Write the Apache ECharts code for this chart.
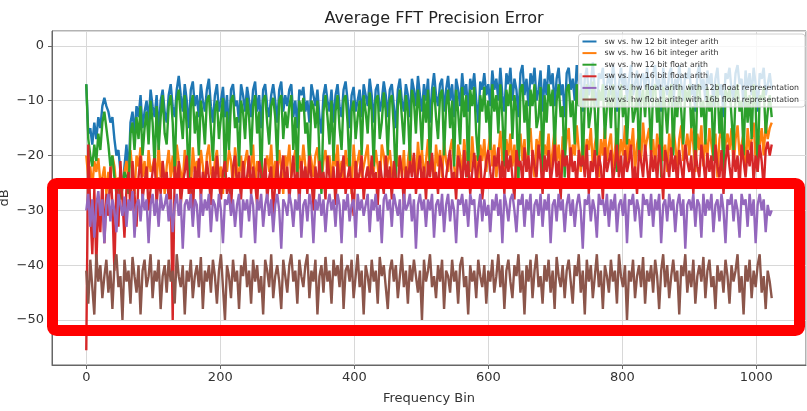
<!DOCTYPE html>
<html>
<head>
<meta charset="utf-8">
<script src="https://cdn.jsdelivr.net/npm/echarts@6/dist/echarts.min.js"></script>
<style>html,body{margin:0;padding:0;background:#fff}#c{width:807px;height:411px}</style>
</head>
<body>
<div id="c"></div>
<script>
// Sampled every BIN_STEP frequency bins (bins 0..1023)
const BIN_STEP = 3;
const seriesNames = [
  'sw vs. hw 12 bit integer arith',
  'sw vs. hw 16 bit integer arith',
  'sw vs. hw 12 bit float arith',
  'sw vs. hw 16 bit float arith',
  'sw vs. hw float arith with 12b float representation',
  'sw vs. hw float arith with 16b float representation'
];
const int12 = [
-7,-16,-15,-18,-14,-17,-13,-15,-11,-9.5,-11,-12,-14,-13,-17,-20,-19,-23,-26,-22,
-18,-24,-14,-12,-16,-11,-13,-9,-15,-12,-10,-14,-8,-11,-13,-9,-16,-10,-8,-12,
-14,-9,-7,-11,-13,-8,-5.5,-9,-12,-7,-10,-15,-8,-6.5,-11,-9,-13,-7,-10,-12,
-8,-6,-11,-14,-9,-7,-12,-10,-7.5,-13,-9,-16,-8,-7,-11,-10,-14,-7,-9,-12,
-7.5,-10,-13,-8,-6.5,-12,-9,-15,-8,-7,-11,-13,-9,-7,-10,-14,-8,-6.5,-12,-9,
-11,-8,-7,-13,-10,-15,-8,-9,-7.5,-12,-10,-14,-7,-9,-11,-8,-13,-16,-9,-7,
-10,-12,-8,-14,-9,-7,-11,-13,-8,-6.5,-10,-15,-9,-7.5,-12,-10,-8,-13,-7,-9,
-11,-6,-9,-14,-8,-7,-12,-10,-6.5,-9,-13,-8,-7,-11,-15,-8,-6,-10,-12,-7,
-9,-13,-6,-8,-11,-5.5,-9,-12,-7,-10,-6,-14,-8,-5,-9,-11,-7,-6,-12,-8,
-5.5,-10,-7,-13,-6,-8,-11,-5,-9,-7,-12,-6,-8,-5,-10,-14,-6.5,-8,-5,-9,
-7,-11,-4.5,-8,-6,-10,-4,-9,-12,-5,-7,-4,-10,-6,-8,-13,-5,-3.5,-9,-6,
-11,-5,-7,-4,-10,-8,-4.5,-12,-6,-9,-3.5,-7,-5,-11,-6,-4,-9,-7,-13,-5,
-4,-8,-6,-10,-3.5,-7,-5,-12,-6,-4,-9,-7,-3,-8,-11,-5,-6,-4,-10,-7,
-5,-9,-3.5,-6,-12,-7,-4,-8,-5,-10,-6,-3.5,-9,-7,-4.5,-11,-6,-5,-8,-4,
-7,-10,-5,-3.5,-8,-6,-12,-4,-7,-9,-5,-4,-11,-6,-8,-3.5,-7,-10,-5,-6,
-4,-9,-7,-12,-5,-3.5,-8,-6,-10,-4.5,-7,-5,-11,-6,-4,-9,-7,-13,-5,-6,
-4,-8,-10,-5,-3.5,-7,-6,-11,-4.5,-8,-5,-9,-4,-7,-12,-5,-6,-4,-9,-7,
-5,-8
];
const int16 = [
-20,-24,-22,-26,-21,-23,-20.5,-25,-24,-22,-27,-23,-25,-20,-22,-26,-24,-28,-25,-23,
-21,-25,-19,-23,-27,-20,-22,-18.5,-24,-21,-26,-19,-23,-22,-20,-25,-18,-24,-21,-27,
-22,-19,-24,-20,-26,-18,-21,-23,-25,-19,-22,-20,-27,-18.5,-23,-21,-24,-19,-22,-26,
-20,-18,-23,-25,-21,-19,-24,-22,-27,-20,-23,-19,-21,-26,-18.5,-22,-24,-20,-25,-21,
-19,-24,-22,-18,-26,-21,-23,-19.5,-25,-22,-20,-23,-18,-25,-21,-24,-19,-22,-27,-20,
-22,-18,-24,-21,-19,-25,-20,-23,-18,-22,-26,-19,-21,-24,-20,-18.5,-23,-25,-21,-19,
-23,-20,-26,-19,-22,-18,-24,-21,-25,-19,-22,-20,-27,-18,-23,-21,-19,-24,-22,-20,
-18,-25,-21,-23,-19,-22,-26,-18,-20,-24,-21,-19,-23,-25,-18.5,-22,-20,-24,-19,-26,
-21,-18,-23,-20,-25,-17.5,-22,-19,-24,-21,-17,-23,-20,-26,-18,-22,-19,-24,-17.5,-21,
-23,-19,-17,-22,-25,-18,-20,-24,-17,-21,-19,-23,-16.5,-22,-20,-25,-18,-21,-17,-23,
-19,-16,-22,-18,-24,-20,-15.5,-21,-23,-17,-20,-16,-22,-18,-25,-19,-16,-21,-17,-23,
-18,-15,-21,-24,-17,-19,-15.5,-22,-18,-20,-16,-23,-19,-15,-21,-18,-24,-16.5,-20,-17,
-15,-22,-18,-20,-14.5,-19,-23,-16,-21,-17,-19,-15,-22,-18,-16,-24,-17,-20,-15,-21,
-18,-16,-23,-19,-15,-21,-17,-20,-14.5,-22,-17,-19,-15,-23,-18,-16,-21,-14,-19,-17,
-15,-20,-17,-22,-16,-19,-14.5,-21,-18,-23,-16,-20,-15,-18,-22,-17,-14.5,-21,-19,-16,
-20,-15,-18,-23,-16,-19,-14.5,-22,-17,-20,-15,-18,-21,-16,-24,-17,-15,-20,-18,-16,
-19,-15,-22,-17,-14.5,-20,-18,-16,-23,-15,-19,-17,-14,-21,-16,-18,-15,-20,-14,-17,
-15,-14
];
const float12 = [
-7,-17,-20,-22,-18,-21,-16,-19,-14,-12,-15,-18,-22,-20,-24,-27,-25,-28,-26,-23,
-24,-27,-16,-14,-19,-13,-17,-11,-20,-15,-12,-18,-10,-14,-22,-11,-19,-13,-9,-16,
-18,-11,-9,-14,-23,-10,-8,-13,-17,-9,-15,-25,-11,-9,-16,-12,-20,-10,-13,-18,
-10,-9,-15,-21,-12,-10,-17,-13,-9.5,-24,-12,-19,-10,-9,-15,-13,-22,-10,-12,-17,
-9.5,-13,-20,-11,-9,-16,-12,-26,-10,-9,-14,-18,-11,-9.5,-13,-21,-10,-9,-17,-12,
-15,-11,-9,-19,-13,-24,-10,-12,-9.5,-16,-14,-22,-10,-11,-15,-10,-20,-27,-12,-9,
-13,-18,-10,-21,-12,-9,-15,-19,-10,-9,-14,-23,-12,-10,-17,-13,-10,-20,-9,-12,
-16,-8.5,-12,-22,-10,-9,-17,-14,-8.5,-12,-20,-10,-9,-15,-25,-11,-8,-13,-18,-9,
-12,-21,-8,-10,-16,-8,-12,-19,-9,-14,-8,-23,-11,-7.5,-13,-17,-9,-8,-20,-11,
-8,-15,-10,-22,-8,-12,-18,-7.5,-13,-9,-24,-8,-11,-7.5,-16,-21,-9,-12,-7.5,-14,
-10,-19,-7,-12,-9,-16,-7,-13,-22,-8,-11,-7,-17,-9,-12,-25,-8,-7,-14,-10,
-20,-8,-11,-7,-15,-13,-7.5,-23,-9,-14,-7,-11,-8,-19,-10,-7,-13,-11,-24,-8,
-7,-13,-10,-18,-7,-11,-8,-22,-10,-7,-15,-12,-6.5,-12,-20,-8,-10,-7,-17,-11,
-8,-15,-7,-10,-23,-12,-7,-13,-9,-18,-10,-7,-14,-12,-7.5,-21,-10,-8,-13,-7,
-11,-19,-8,-7,-14,-10,-24,-7.5,-11,-16,-9,-7,-20,-10,-13,-7,-12,-18,-8,-10,
-7,-15,-11,-22,-8,-7,-13,-10,-18,-7.5,-12,-9,-21,-10,-7,-16,-11,-25,-8,-10,
-7.5,-13,-19,-9,-7,-12,-10,-20,-8,-14,-9,-17,-7,-11,-23,-9,-10,-7.5,-16,-12,
-9,-13
];
const float16 = [
-55.5,-18,-30,-38,-26,-40,-28,-34,-24,-36,-27,-31,-22,-29,-41,-25,-33,-21,-28,-35,
-26,-23,-30,-21,-27,-33,-24,-20,-28,-25,-22,-30,-26,-23,-20.5,-29,-24,-27,-21,-25,
-23,-28,-24,-50,-22,-26,-21,-29,-25,-23,-20,-27,-24,-31,-22,-25,-20.5,-28,-23,-26,
-21,-24,-29,-22,-26,-20,-25,-28,-23,-21,-27,-24,-30,-22,-20,-26,-23,-28,-21,-25,
-24,-20,-27,-22,-25,-29,-21,-23,-26,-20.5,-28,-24,-22,-31,-25,-21,-27,-23,-20,-26,
-22,-28,-24,-20,-26,-23,-29,-21,-25,-22,-27,-20,-24,-30,-22,-26,-21,-25,-23,-28,
-20,-24,-26,-22,-29,-21,-25,-23,-20,-27,-24,-22,-26,-31,-21,-25,-23,-20,-28,-24,
-22,-26,-20,-25,-23,-29,-21,-24,-27,-20,-25,-22,-28,-21,-24,-26,-20,-23,-29,-22,
-25,-21,-24,-19.5,-27,-23,-20,-26,-22,-28,-21,-24,-19.5,-25,-23,-27,-20,-22,-26,-24,
-21,-19,-25,-23,-28,-20,-22,-26,-19,-24,-21,-27,-23,-19.5,-25,-22,-20,-28,-24,-21,
-19,-23,-26,-20,-22,-18.5,-25,-21,-27,-19,-23,-20,-24,-28,-19,-22,-21,-25,-18.5,-23,
-20,-26,-19,-22,-24,-18,-21,-27,-20,-23,-19,-25,-22,-18,-24,-21,-28,-19,-22,-20,
-25,-18.5,-23,-21,-26,-19,-22,-20,-24,-18,-27,-21,-23,-19,-25,-20,-22,-28,-18.5,-23,
-21,-19,-25,-22,-18,-24,-20,-26,-19,-23,-21,-18,-25,-22,-27,-19,-21,-24,-18,-22,
-26,-19,-23,-20,-25,-18,-22,-28,-19,-21,-24,-18.5,-23,-20,-26,-19,-22,-25,-18,-21,
-23,-20,-27,-19,-22,-24,-18,-21,-25,-19.5,-23,-20,-26,-18,-22,-24,-19,-27,-21,-18,
-22,-25,-19,-23,-20,-26,-18,-21,-24,-19,-22,-17.5,-25,-20,-23,-18,-21,-26,-19,-17.5,
-20,-18
];
const rep12 = [
-30,-27,-33,-28,-35,-29,-26.5,-31,-28,-36,-29,-27,-32,-28,-30,-34,-27,-29,-31,-27.5,
-33,-28,-30,-26.5,-35,-29,-28,-32,-27,-30,-28,-36,-29,-27,-31,-28,-33,-27,-30,-29,
-27,-32,-28,-34,-29,-27,-31,-28,-37,-29,-28,-30,-27,-33,-28,-29,-35,-27,-31,-28,
-30,-27,-34,-28,-29,-32,-27,-30,-36,-28,-29,-27,-31,-28,-33,-29,-27,-35,-28,-30,
-28,-32,-27,-29,-36,-28,-30,-27,-33,-29,-27,-31,-28,-34,-29,-27,-30,-37,-28,-29,
-31,-27,-29,-33,-28,-30,-27,-35,-29,-28,-32,-27,-29,-36,-28,-30,-27,-31,-28,-34,
-29,-27,-30,-28,-33,-27,-29,-36,-28,-30,-27,-32,-29,-28,-35,-27,-30,-28,-31,-29,
-27,-34,-28,-30,-27,-32,-29,-36,-28,-27,-30,-28,-33,-27,-29,-31,-28,-35,-27,-30,
-29,-27,-32,-28,-37,-29,-27,-30,-28,-33,-28,-30,-27,-35,-29,-28,-31,-27,-34,-29,
-27,-32,-28,-30,-36,-28,-29,-27,-31,-28,-33,-27,-29,-28,-35,-30,-27,-32,-28,-31,
-29,-34,-28,-30,-27,-31,-28,-36,-27,-29,-32,-28,-27,-30,-34,-28,-29,-27,-33,-28,
-30,-27,-35,-29,-28,-31,-27,-33,-28,-30,-27,-36,-29,-28,-32,-27,-30,-28,-34,-29,
-27,-31,-28,-33,-29,-27,-30,-37,-28,-29,-27,-32,-28,-30,-35,-27,-29,-28,-31,-27,
-33,-28,-30,-27,-34,-29,-28,-31,-27,-36,-28,-29,-27,-32,-28,-30,-35,-27,-29,-28,
-31,-27,-33,-28,-30,-27,-36,-29,-28,-32,-27,-30,-28,-34,-29,-27,-31,-28,-37,-29,
-28,-30,-27,-33,-28,-29,-35,-27,-31,-28,-30,-27,-34,-29,-28,-32,-27,-30,-36,-28,
-29,-27,-32,-28,-30,-35,-27,-29,-28,-33,-27,-31,-28,-36,-29,-27,-30,-28,-34,-29,
-31,-30
];
const rep16 = [
-41,-47,-39,-44,-49,-38,-43,-40,-46,-42,-39,-45,-41,-48,-40,-38,-44,-42,-50,-39,
-43,-41,-47,-38.5,-42,-45,-40,-49,-41,-39,-44,-42,-38,-46,-41,-43,-39,-48,-42,-40,
-45,-39,-43,-41,-47,-38,-42,-44,-40,-49,-41,-43,-39,-46,-42,-40,-44,-38.5,-48,-41,
-43,-40,-45,-39,-42,-47,-41,-38,-44,-50,-40,-42,-46,-39,-43,-41,-48,-40,-42,-38,
-44,-41,-47,-39,-43,-40,-45,-42,-49,-39,-41,-44,-38,-46,-42,-40,-43,-48,-39,-42,
-45,-40,-38,-43,-41,-47,-39,-42,-44,-40,-38,-46,-41,-43,-39,-49,-42,-40,-45,-38.5,
-43,-41,-47,-39,-42,-40,-44,-38,-48,-41,-40,-43,-39,-46,-42,-38,-44,-41,-49,-40,
-42,-45,-39,-43,-41,-47,-38.5,-42,-40,-44,-48,-41,-39,-43,-40,-46,-42,-38,-44,-41,
-47,-40,-43,-39,-42,-45,-41,-50,-39,-43,-41,-38,-44,-42,-46,-40,-43,-39,-48,-41,
-42,-45,-39,-43,-41,-47,-40,-38.5,-44,-42,-49,-40,-43,-41,-46,-39,-42,-44,-40,-47,
-41,-43,-39,-45,-42,-38,-44,-40,-48,-41,-39,-43,-46,-40,-42,-38,-45,-41,-49,-40,
-43,-39,-46,-41,-38,-44,-42,-47,-40,-43,-39,-45,-41,-48,-38.5,-42,-44,-40,-46,-41,
-39,-43,-47,-40,-42,-38,-45,-41,-49,-39,-43,-40,-46,-42,-38,-44,-41,-48,-40,-42,
-45,-39,-43,-41,-47,-38,-42,-44,-40,-50,-41,-43,-39,-46,-42,-40,-44,-38.5,-47,-41,
-43,-40,-45,-39,-42,-48,-41,-38,-44,-40,-46,-42,-39,-43,-41,-49,-40,-42,-38,-45,
-41,-44,-39,-47,-42,-40,-43,-38.5,-46,-41,-39,-44,-42,-48,-40,-43,-41,-45,-39,-42,
-47,-40,-43,-41,-38,-45,-42,-49,-40,-43,-39,-46,-41,-44,-40,-38,-45,-42,-48,-41,
-43,-46
];
const colors = ['#1f77b4','#ff7f0e','#2ca02c','#d62728','#9467bd','#8c564b'];
const allValues = [int12, int16, float12, float16, rep12, rep16];

const FONT = 'DejaVu Sans';
const minusFmt = v => String(v).replace('-', '\u2212');

const chart = echarts.init(document.getElementById('c'), null, {renderer: 'canvas'});
chart.setOption({
  animation: false,
  backgroundColor: '#ffffff',
  color: colors,
  title: {
    text: 'Average FFT Precision Error',
    left: 429, top: 6, textAlign: 'center',
    textStyle: {fontFamily: FONT, fontSize: 16, fontWeight: 'normal', color: '#222'}
  },
  legend: {
    data: seriesNames,
    orient: 'vertical',
    right: 2, top: 34,
    icon: 'rect', itemWidth: 14, itemHeight: 2, itemGap: 2.6,
    textStyle: {fontFamily: FONT, fontSize: 7.8, lineHeight: 9, color: '#333', padding: [0,0,0,3]},
    backgroundColor: 'rgba(255,255,255,0.8)',
    borderColor: '#d0d0d0', borderWidth: 1, borderRadius: 3,
    padding: [3, 6, 3, 4]
  },
  grid: {left: 52, right: 1, top: 31, bottom: 46, show: true, borderColor: '#666', borderWidth: 1, outerBoundsMode: 'none'},
  xAxis: {
    type: 'value', min: -51.15, max: 1074.15, splitNumber: 6,
    name: 'Frequency Bin', nameLocation: 'middle', nameGap: 27, nameMoveOverlap: false,
    nameTextStyle: {fontFamily: FONT, fontSize: 13, color: '#333'},
    axisLine: {show: true, onZero: false, lineStyle: {color: '#666'}},
    axisTick: {show: true, length: 4, lineStyle: {color: '#666'}},
    axisLabel: {fontFamily: FONT, fontSize: 13, color: '#333', showMinLabel: false, showMaxLabel: false, margin: 6, formatter: v => String(v)},
    splitLine: {show: true, lineStyle: {color: '#d8d8d8', width: 1}}
  },
  yAxis: {
    type: 'value', min: -58.2, max: 2.7, splitNumber: 6,
    name: 'dB', nameLocation: 'middle', nameGap: 41, nameMoveOverlap: false,
    nameTextStyle: {fontFamily: FONT, fontSize: 13, color: '#333'},
    axisLine: {show: true, onZero: false, lineStyle: {color: '#666'}},
    axisTick: {show: true, length: 4, lineStyle: {color: '#666'}},
    axisLabel: {fontFamily: FONT, fontSize: 13, color: '#333', showMinLabel: false, showMaxLabel: false, margin: 8, formatter: minusFmt},
    splitLine: {show: true, lineStyle: {color: '#d8d8d8', width: 1}}
  },
  series: allValues.map((vals, k) => ({
    name: seriesNames[k],
    type: 'line',
    showSymbol: false,
    symbol: 'none',
    z: 2 + k * 0.01,
    lineStyle: {width: 2.4, color: colors[k]},
    data: vals.map((v, i) => [i * BIN_STEP, v])
  })),
  graphic: [{
    type: 'rect', z: 100,
    shape: {x: 52.5, y: 183.5, width: 747, height: 147, r: 4},
    style: {fill: 'none', stroke: '#ff0000', lineWidth: 11}
  }]
});
</script>
</body>
</html>
